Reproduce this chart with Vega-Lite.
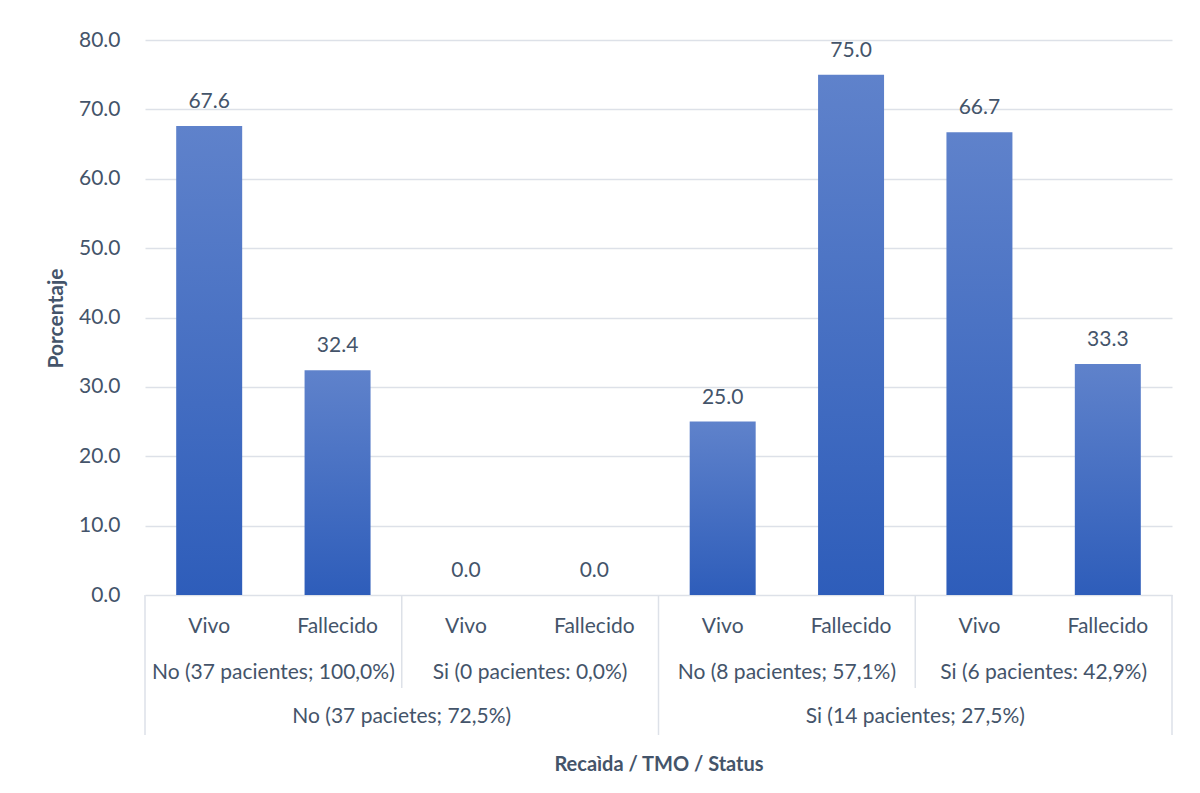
{
  "$schema": "https://vega.github.io/schema/vega-lite/v6.json",
  "width": 1027,
  "height": 695,
  "autosize": "none",
  "padding": {"left": 145, "top": 40, "right": 28, "bottom": 58},
  "background": "white",
  "config": {
    "view": {"stroke": null},
    "font": "Lato",
    "text": {"font": "Lato", "fontSize": 21, "color": "#44546a"}
  },
  "data": {
    "values": [
      {"barra": "No|No|Vivo", "recaida": "No (37 pacietes; 72,5%)", "tmo": "No (37 pacientes; 100,0%)", "status": "Vivo", "porcentaje": 67.6},
      {"barra": "No|No|Fallecido", "recaida": "No (37 pacietes; 72,5%)", "tmo": "No (37 pacientes; 100,0%)", "status": "Fallecido", "porcentaje": 32.4},
      {"barra": "No|Si|Vivo", "recaida": "No (37 pacietes; 72,5%)", "tmo": "Si (0 pacientes: 0,0%)", "status": "Vivo", "porcentaje": 0.0},
      {"barra": "No|Si|Fallecido", "recaida": "No (37 pacietes; 72,5%)", "tmo": "Si (0 pacientes: 0,0%)", "status": "Fallecido", "porcentaje": 0.0},
      {"barra": "Si|No|Vivo", "recaida": "Si (14 pacientes; 27,5%)", "tmo": "No (8 pacientes; 57,1%)", "status": "Vivo", "porcentaje": 25.0},
      {"barra": "Si|No|Fallecido", "recaida": "Si (14 pacientes; 27,5%)", "tmo": "No (8 pacientes; 57,1%)", "status": "Fallecido", "porcentaje": 75.0},
      {"barra": "Si|Si|Vivo", "recaida": "Si (14 pacientes; 27,5%)", "tmo": "Si (6 pacientes: 42,9%)", "status": "Vivo", "porcentaje": 66.7},
      {"barra": "Si|Si|Fallecido", "recaida": "Si (14 pacientes; 27,5%)", "tmo": "Si (6 pacientes: 42,9%)", "status": "Fallecido", "porcentaje": 33.3}
    ]
  },
  "encoding": {
    "x": {
      "field": "barra",
      "type": "nominal",
      "sort": null,
      "scale": {"paddingInner": 0, "paddingOuter": 0},
      "axis": {
        "title": "Recaìda / TMO / Status",
        "labels": false,
        "ticks": false,
        "domain": false,
        "grid": false,
        "titleFont": "Lato",
        "titleFontSize": 20,
        "titleFontWeight": "bold",
        "titleColor": "#44546a",
        "titlePadding": 19
      }
    }
  },
  "layer": [
    {
      "mark": {
        "type": "bar",
        "width": {"band": 0.514},
        "color": {
          "gradient": "linear",
          "x1": 0, "y1": 0, "x2": 0, "y2": 1,
          "stops": [
            {"offset": 0, "color": "#5f82cb"},
            {"offset": 1, "color": "#2e5dba"}
          ]
        }
      },
      "encoding": {
        "y": {
          "field": "porcentaje",
          "type": "quantitative",
          "scale": {"domain": [-20.18, 80], "nice": false, "zero": false},
          "axis": {
            "values": [0, 10, 20, 30, 40, 50, 60, 70, 80],
            "format": ".1f",
            "title": "Porcentaje",
            "titleFont": "Lato",
            "titleFontSize": 21,
            "titleFontWeight": "bold",
            "titleColor": "#44546a",
            "titleY": 278,
            "titlePadding": 12,
            "labelFont": "Lato",
            "labelFontSize": 21,
            "labelColor": "#44546a",
            "labelPadding": 25,
            "domain": false,
            "ticks": false,
            "grid": true,
            "gridColor": "#dde1e8",
            "gridWidth": 1.5
          }
        }
      }
    },
    {
      "mark": {"type": "text", "baseline": "alphabetic", "dy": -18},
      "encoding": {
        "y": {"field": "porcentaje", "type": "quantitative"},
        "text": {"field": "porcentaje", "type": "quantitative", "format": ".1f"}
      }
    },
    {
      "transform": [{"filter": {"field": "barra", "oneOf": ["No|No|Vivo", "Si|No|Vivo"]}}],
      "mark": {"type": "rule", "color": "#dde1e8", "strokeWidth": 1.5},
      "encoding": {
        "x": {"field": "barra", "type": "nominal", "sort": null, "bandPosition": 0},
        "y": {"datum": 0},
        "y2": {"datum": -20.18}
      }
    },
    {
      "transform": [{"filter": {"field": "barra", "equal": "Si|Si|Fallecido"}}],
      "mark": {"type": "rule", "color": "#dde1e8", "strokeWidth": 1.5},
      "encoding": {
        "x": {"field": "barra", "type": "nominal", "sort": null, "bandPosition": 1},
        "y": {"datum": 0},
        "y2": {"datum": -20.18}
      }
    },
    {
      "transform": [{"filter": {"field": "barra", "oneOf": ["No|Si|Vivo", "Si|Si|Vivo"]}}],
      "mark": {"type": "rule", "color": "#dde1e8", "strokeWidth": 1.5},
      "encoding": {
        "x": {"field": "barra", "type": "nominal", "sort": null, "bandPosition": 0},
        "y": {"datum": 0},
        "y2": {"datum": -13.4}
      }
    },
    {
      "mark": {"type": "text", "baseline": "middle"},
      "encoding": {
        "y": {"datum": -4.6},
        "text": {"field": "status", "type": "nominal"}
      }
    },
    {
      "transform": [{"filter": {"field": "status", "equal": "Vivo"}}],
      "mark": {"type": "text", "baseline": "middle"},
      "encoding": {
        "x": {"field": "barra", "type": "nominal", "sort": null, "bandPosition": 1},
        "y": {"datum": -11.25},
        "text": {"field": "tmo", "type": "nominal"}
      }
    },
    {
      "transform": [{"filter": {"field": "barra", "oneOf": ["No|No|Fallecido", "Si|No|Fallecido"]}}],
      "mark": {"type": "text", "baseline": "middle"},
      "encoding": {
        "x": {"field": "barra", "type": "nominal", "sort": null, "bandPosition": 1},
        "y": {"datum": -17.6},
        "text": {"field": "recaida", "type": "nominal"}
      }
    }
  ]
}
